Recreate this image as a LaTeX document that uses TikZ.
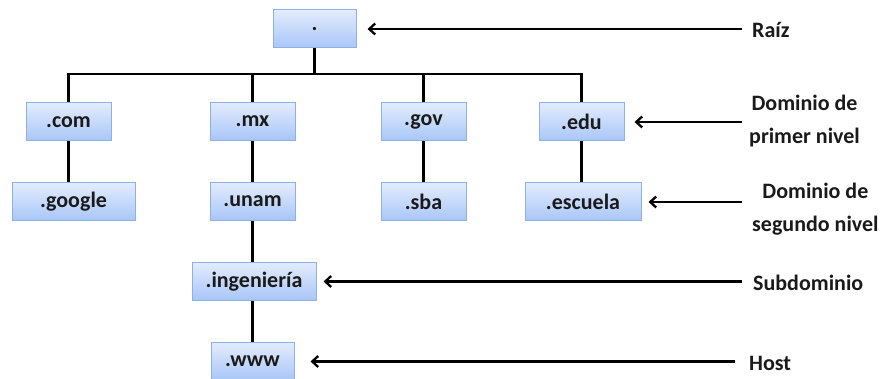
\documentclass[tikz,border=0pt]{standalone}
\usepackage{fontspec}
\setmainfont{Carlito}
\usetikzlibrary{arrows,arrows.meta,positioning}
\definecolor{boxtop}{HTML}{E3ECFD}
\definecolor{boxbottom}{HTML}{A8C6F8}
\definecolor{boxline}{HTML}{8DB0E6}
\definecolor{inkdark}{HTML}{1A1A1A}
\tikzset{
  dnsbox/.style = {draw=boxline, line width=1pt, top color=boxtop, bottom color=boxbottom, minimum width=85pt, minimum height=38pt, inner sep=0pt, font=\fontsize{22}{26}\selectfont\bfseries, text=inkdark},
  treeedge/.style = {black, line width=2.5pt},
  pointer/.style = {black, line width=2.3pt, ->, >={Straight Barb[length=6pt,width=11pt]}},
  levellabel/.style = {anchor=west, align=center, inner sep=0pt, font=\fontsize{22}{33}\selectfont\bfseries, text=inkdark},
}

\begin{document}
\begin{tikzpicture}[x=1pt, y=1pt, node distance=80pt]
  \useasboundingbox (0,0) rectangle (883,-379);
  % arbol de dominios
  \node[dnsbox, minimum width=83pt] (root) at (314.5,-29) {.};
  \node[dnsbox] (com) at (68.5,-122) {.com};
  \node[dnsbox] (mx) at (252.5,-121.5) {.mx};
  \node[dnsbox] (gov) at (423.5,-122) {.gov};
  \node[dnsbox] (edu) at (581.5,-122) {.edu};
  \node[dnsbox, minimum width=123pt, below of=com, xshift=5pt] (google) {.google};
  \node[dnsbox, below of=mx] (unam) {.unam};
  \node[dnsbox, below of=gov] (sba) {.sba};
  \node[dnsbox, minimum width=116pt, below of=edu, xshift=1.5pt] (escuela) {.escuela};
  \node[dnsbox, minimum width=124pt, below of=unam, xshift=1.5pt] (ingenieria) {.ingeniería};
  \node[dnsbox, minimum width=83pt, below of=ingenieria, xshift=-1.5pt] (www) {.www};

  \coordinate (bus) at (314.5,-74);
  \draw[treeedge] (root.south) -- (bus);
  \draw[treeedge] (com.north) |- (edu.north |- bus) -- (edu.north);
  \draw[treeedge] (mx.north) -- (mx.north |- bus);
  \draw[treeedge] (gov.north) -- (gov.north |- bus);
  \draw[treeedge] (com.south) -- (com.south |- google.north);
  \draw[treeedge] (mx.south) -- (unam.north);
  \draw[treeedge] (gov.south) -- (sba.north);
  \draw[treeedge] (edu.south) -- (edu.south |- escuela.north);
  \draw[treeedge] (unam.south) -- (unam.south |- ingenieria.north);
  \draw[treeedge] (ingenieria.south -| unam) -- (www.north -| unam);

  % niveles
  \node[levellabel] (raiz) at (752,-30) {Raíz};
  \node[levellabel] (primer) at (749,-121.5) {Dominio de\\primer nivel};
  \node[levellabel] (segundo) at (752,-209.5) {Dominio de\\segundo nivel};
  \node[levellabel] (sub) at (753,-283) {Subdominio};
  \node[levellabel] (host) at (749,-363) {Host};

  \draw[pointer, shorten <=10pt, shorten >=11pt] (raiz.west |- root.east) -- (root.east);
  \draw[pointer, shorten <=7pt, shorten >=10pt] (primer.west |- edu.east) -- (edu.east);
  \draw[pointer, shorten <=10pt, shorten >=7pt] (segundo.west |- escuela.east) -- (escuela.east);
  \draw[pointer, shorten <=11pt, shorten >=7pt] (sub.west |- ingenieria.east) -- (ingenieria.east);
  \draw[pointer, shorten <=14pt, shorten >=16pt] (host.west |- www.east) -- (www.east);
\end{tikzpicture}
\end{document}
